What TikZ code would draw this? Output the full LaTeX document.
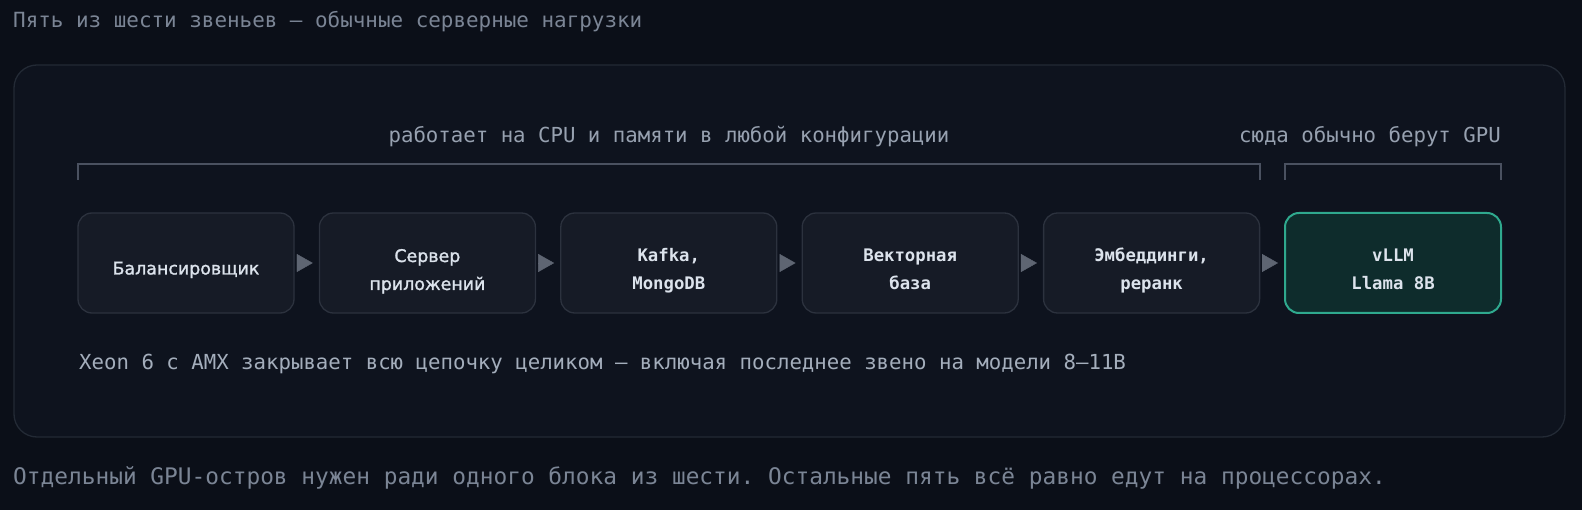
\documentclass[tikz,border=0pt]{standalone}
\usepackage{fontspec}
\setmainfont{DejaVu Sans}
\setsansfont{DejaVu Sans}
\setmonofont{DejaVu Sans Mono}
\newfontfamily\medsans[FakeBold=1.4]{DejaVu Sans}
\usetikzlibrary{arrows.meta}
\definecolor{bg}{HTML}{0B0F18}
\definecolor{panelfill}{HTML}{0E131E}
\definecolor{panelline}{HTML}{232A35}
\definecolor{boxfill}{HTML}{161B26}
\definecolor{boxline}{HTML}{2C323E}
\definecolor{boxtext}{HTML}{DCE3EC}
\definecolor{gpufill}{HTML}{0E2C2C}
\definecolor{gpuline}{HTML}{2FA98E}
\definecolor{brkline}{HTML}{4A5160}
\definecolor{tipgray}{HTML}{5E6572}
\definecolor{dimtext}{HTML}{7B8595}
\definecolor{midtext}{HTML}{97A1B0}
\definecolor{notetext}{HTML}{A4AEBC}
\begin{document}
\begin{tikzpicture}[x=1pt,y=-1pt,
    box/.style={draw=boxline,fill=boxfill,line width=1.3pt,rounded corners=14pt,
      minimum width=216pt,minimum height=100pt,inner sep=0pt,align=center,
      text=boxtext,font=\fontsize{17.3}{28}\selectfont\ttfamily\bfseries},
    sansbox/.style={box,font=\fontsize{17.4}{28}\selectfont\medsans},
    gpubox/.style={box,draw=gpuline,fill=gpufill,line width=2pt},
    one/.style={text height=27pt,text depth=4pt},
    two/.style={text height=60pt,text depth=6pt},
    brk/.style={draw=brkline,line width=2pt},
    txt/.style={inner sep=0pt,anchor=base west}]
  \fill[bg] (0,0) rectangle (1582,510);
  \useasboundingbox (0,0) rectangle (1582,510);
  \draw[fill=panelfill,draw=panelline,line width=1.3pt,rounded corners=23pt]
    (14,65) rectangle (1565,437);
  \draw
    (186,263) node[sansbox,one] (1){Балансировщик}
    (427.4,263) node[sansbox,two] (2){Сервер\\приложений}
    (668.8,263) node[box,two] (3){Kafka,\\MongoDB}
    (910.2,263) node[box,two] (4){Векторная\\база}
    (1151.6,263) node[box,two] (5){Эмбеддинги,\\реранк}
    (1393,263) node[gpubox,two] (6){vLLM\\Llama 8B};
  \begin{scope}[-{Triangle[length=16pt,width=18pt]},draw=tipgray,fill=tipgray,
      line width=0.4pt,shorten <=3pt,shorten >=6pt]
    \draw (1) to (2);
    \draw (2) to (3);
    \draw (3) to (4);
    \draw (4) to (5);
    \draw (5) to (6);
  \end{scope}
  \draw[brk] (78,180) |- (1260,164) -- (1260,180);
  \draw[brk] (1285,180) |- (1501,164) -- (1501,180);
  \node[txt,text=dimtext,font=\fontsize{20.9}{25}\selectfont\ttfamily] (title) at (13,28)
    {Пять из шести звеньев — обычные серверные нагрузки};
  \node[txt,anchor=base,text=midtext,font=\fontsize{20.7}{25}\selectfont\ttfamily] (cpulab) at (669,143)
    {работает на CPU и памяти в любой конфигурации};
  \node[txt,anchor=base east,text=midtext,font=\fontsize{20.7}{25}\selectfont\ttfamily] (gpulab) at (1501,143)
    {сюда обычно берут GPU};
  \node[txt,text=notetext,font=\fontsize{20.7}{25}\selectfont\ttfamily] (xeon) at (79,370)
    {Xeon 6 с AMX закрывает всю цепочку целиком — включая последнее звено на модели 8–11B};
  \node[txt,text=dimtext,font=\fontsize{22.8}{25}\selectfont\ttfamily] (foot) at (13,484)
    {Отдельный GPU-остров нужен ради одного блока из шести. Остальные пять всё равно едут на процессорах.};
\end{tikzpicture}
\end{document}
